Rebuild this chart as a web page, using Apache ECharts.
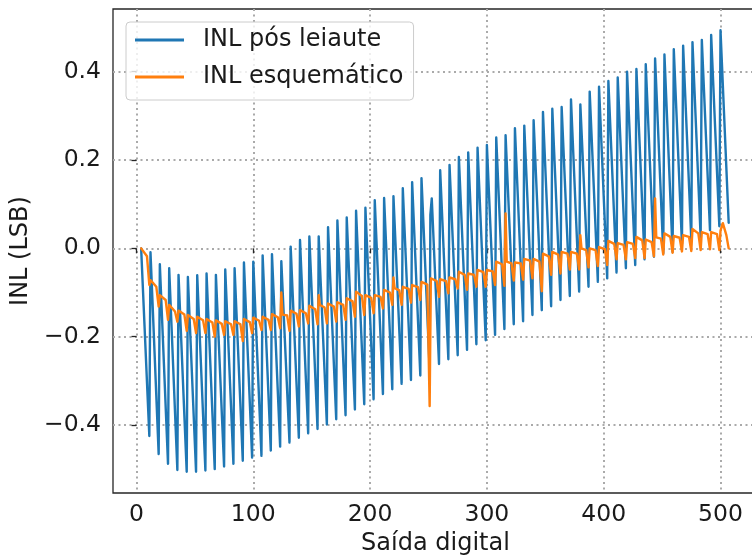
<!DOCTYPE html>
<html>
<head>
<meta charset="utf-8">
<script src="https://cdn.jsdelivr.net/npm/echarts@6/dist/echarts.min.js"></script>
<style>
  html, body { margin: 0; padding: 0; background: #ffffff; }
  #chart { width: 752px; height: 558px; }
</style>
</head>
<body>
<div id="chart"></div>
<script>
// INL pós leiaute: picos e vales do dente de serra (código, LSB)
const blueCodes = [4,
  11, 12, 19, 20, 27, 28, 35, 36, 43, 44, 51, 52, 59, 60, 67, 68, 75, 76, 83, 84,
  91, 92, 99, 100, 107, 108, 115, 116, 123, 124, 131, 132, 139, 140, 147, 148,
  155, 156, 163, 164, 171, 172, 179, 180, 187, 188, 195, 196, 203, 204, 211, 212,
  219, 220, 227, 228, 235, 236, 243, 244, 251, 251.6, 252.8, 259, 260, 267, 268,
  275, 276, 283, 284, 291, 292, 299, 300, 307, 308, 315, 316, 323, 324, 331, 332,
  339, 340, 347, 348, 355, 356, 363, 364, 371, 372, 379, 380, 387, 388, 395, 396,
  403, 404, 411, 412, 419, 420, 427, 428, 435, 436, 443, 444, 451, 452, 459, 460,
  467, 468, 475, 476, 483, 484, 491, 492, 499, 500, 507]
const blueInl = [0.000,
  -0.425, -0.009, -0.466, -0.036, -0.488, -0.045, -0.502, -0.060, -0.506, -0.065, -0.506, -0.061, -0.503, -0.057, -0.500, -0.060, -0.494, -0.048, -0.488, -0.045,
  -0.481, -0.032, -0.474, -0.030, -0.470, -0.016, -0.458, -0.013, -0.449, -0.029, -0.440, 0.004, -0.429, 0.019, -0.419, 0.027,
  -0.409, 0.027, -0.399, 0.048, -0.387, 0.063, -0.378, 0.070, -0.365, 0.085, -0.353, 0.092, -0.342, 0.109, -0.330, 0.114,
  -0.319, 0.118, -0.307, 0.136, -0.298, 0.150, -0.288, 0.159, -0.274, 0.076, 0.113, -0.262, 0.177, -0.251, 0.189,
  -0.242, 0.207, -0.230, 0.217, -0.217, 0.228, -0.208, 0.234, -0.196, 0.251, -0.183, 0.256, -0.172, 0.272, -0.165, 0.278,
  -0.151, 0.290, -0.140, 0.309, -0.131, 0.316, -0.117, 0.320, -0.108, 0.337, -0.098, 0.326, -0.087, 0.355, -0.076, 0.366,
  -0.068, 0.379, -0.055, 0.387, -0.045, 0.400, -0.038, 0.406, -0.025, 0.417, -0.019, 0.430, -0.011, 0.439, -0.008, 0.451,
  0.010, 0.459, 0.019, 0.467, 0.025, 0.472, 0.041, 0.483, 0.050, 0.494, 0.058]

// INL esquemático (código, LSB)
const orangeCodes = [4, 9, 11, 12, 17, 19, 20, 25, 27, 28, 33, 35, 36, 41, 43, 44, 49, 51, 52, 57, 59, 60,
  65, 67, 68, 73, 75, 76, 81, 83, 84, 89, 91, 92, 97, 99, 100, 105, 107, 108, 113, 115, 116,
  121, 123, 124, 125, 129, 131, 132, 137, 139, 140, 145, 147, 148, 153, 155, 156, 157, 161, 163, 164,
  169, 171, 172, 177, 179, 180, 185, 187, 188, 193, 195, 196, 201, 203, 204, 209, 211, 212,
  217, 219, 220, 221, 225, 227, 228, 233, 235, 236, 241, 243, 244, 249, 251, 252,
  257, 259, 260, 265, 267, 268, 273, 275, 276, 281, 283, 284, 289, 291, 292, 297, 299, 300,
  305, 307, 308, 313, 315, 316, 317, 321, 323, 324, 329, 331, 332, 337, 339, 340, 345, 347, 348,
  353, 355, 356, 361, 363, 364, 369, 371, 372, 377, 379, 380, 381, 385, 387, 388, 393, 395, 396,
  401, 403, 404, 409, 411, 412, 417, 419, 420, 425, 427, 428, 433, 435, 436, 441, 443, 444, 445,
  449, 451, 452, 457, 459, 460, 465, 467, 468, 473, 475, 476, 481, 483, 484, 489, 491, 492,
  497, 499, 500, 502, 505, 507]
const orangeInl = [0.000, -0.018, -0.083, -0.072, -0.087, -0.132, -0.106, -0.117, -0.162, -0.128, -0.143, -0.166, -0.141, -0.150, -0.187, -0.151, -0.160, -0.192, -0.155, -0.163, -0.192, -0.160,
  -0.168, -0.200, -0.163, -0.171, -0.196, -0.165, -0.172, -0.196, -0.165, -0.172, -0.210, -0.160, -0.167, -0.192, -0.157, -0.164, -0.185, -0.155, -0.162, -0.185, -0.149,
  -0.156, -0.181, -0.100, -0.150, -0.152, -0.187, -0.141, -0.148, -0.177, -0.140, -0.147, -0.170, -0.130, -0.138, -0.172, -0.106, -0.128, -0.134, -0.170, -0.125,
  -0.132, -0.166, -0.122, -0.128, -0.162, -0.113, -0.120, -0.155, -0.098, -0.108, -0.151, -0.106, -0.112, -0.147, -0.106, -0.110, -0.136, -0.094,
  -0.100, -0.128, -0.066, -0.090, -0.095, -0.128, -0.087, -0.092, -0.123, -0.083, -0.088, -0.117, -0.076, -0.082, -0.357, -0.068,
  -0.074, -0.110, -0.070, -0.074, -0.102, -0.066, -0.070, -0.091, -0.053, -0.060, -0.094, -0.057, -0.060, -0.087, -0.049, -0.054, -0.087, -0.049,
  -0.052, -0.083, -0.030, -0.036, -0.085, 0.079, -0.030, -0.034, -0.073, -0.032, -0.034, -0.071, -0.024, -0.028, -0.068, -0.024, -0.030, -0.097, -0.012,
  -0.018, -0.060, -0.008, -0.014, -0.057, -0.008, -0.012, -0.048, -0.008, -0.012, -0.048, 0.030, 0.000, -0.004, -0.043, 0.000, -0.004, -0.040, 0.003,
  -0.002, -0.038, 0.017, 0.010, -0.025, 0.012, 0.008, -0.025, 0.014, 0.010, -0.022, 0.026, 0.018, -0.022, 0.020, 0.014, -0.018, 0.113, 0.025,
  0.022, -0.014, 0.034, 0.026, -0.010, 0.028, 0.024, -0.007, 0.030, 0.026, -0.006, 0.044, 0.034, -0.004, 0.037, 0.032, -0.002, 0.037,
  0.032, -0.004, 0.040, 0.057, 0.030, 0.000]

const xTicks = [0, 100, 200, 300, 400, 500]
const yTicks = [-0.4, -0.2, 0.0, 0.2, 0.4]

const FONT = 'DejaVu Sans'
const pairs = (xs, ys) => xs.map((x, i) => [x, ys[i]])

const chart = echarts.init(document.getElementById('chart'), null, { renderer: 'canvas' })

const option = {
  animation: false,
  backgroundColor: '#ffffff',
  grid: {
    left: 113, top: 9, width: 645, height: 484,
    show: true, borderColor: '#262626', borderWidth: 1.3,
    outerBoundsMode: 'none'
  },
  legend: {
    orient: 'vertical',
    left: 126, top: 22,
    padding: [4, 10, 9, 9],
    itemGap: 9,
    itemWidth: 49, itemHeight: 2.8,
    icon: 'rect',
    backgroundColor: 'rgba(255,255,255,0.8)',
    borderColor: '#cccccc', borderWidth: 1, borderRadius: 4,
    textStyle: { fontFamily: FONT, fontSize: 24, color: '#1a1a1a', lineHeight: 28, padding: [0, 0, 0, 14] },
    data: ['INL pós leiaute', 'INL esquemático']
  },
  xAxis: {
    type: 'value',
    min: -20.1, max: 532.1,
    name: 'Saída digital', nameLocation: 'middle', nameGap: 38,
    nameTextStyle: { fontFamily: FONT, fontSize: 24, color: '#1a1a1a' },
    axisLine: { show: false },
    axisTick: { show: true, length: 5, customValues: xTicks, lineStyle: { color: '#262626', width: 1.3 } },
    axisLabel: { customValues: xTicks, margin: 10, fontFamily: FONT, fontSize: 23.5, color: '#1a1a1a' },
    splitLine: { show: true, lineStyle: { color: '#aaaaaa', width: 2, type: [2, 3.5] } }
  },
  yAxis: {
    type: 'value',
    min: -0.554, max: 0.542,
    name: 'INL (LSB)', nameLocation: 'middle', nameGap: 74,
    nameTextStyle: { fontFamily: FONT, fontSize: 24, color: '#1a1a1a' },
    axisLine: { show: false },
    axisTick: { show: true, length: 5, customValues: yTicks, lineStyle: { color: '#262626', width: 1.3 } },
    axisLabel: {
      customValues: yTicks, margin: 12, fontFamily: FONT, fontSize: 23.5, color: '#1a1a1a',
      formatter: v => (v < -1e-9 ? '\u2212' : '') + Math.abs(v).toFixed(1)
    },
    splitLine: { show: true, lineStyle: { color: '#aaaaaa', width: 2, type: [2, 3.5] } }
  },
  series: [
    {
      name: 'INL pós leiaute',
      type: 'line',
      data: pairs(blueCodes, blueInl),
      showSymbol: false,
      color: '#1f77b4',
      lineStyle: { width: 2.4, color: '#1f77b4', join: 'round', cap: 'round' }
    },
    {
      name: 'INL esquemático',
      type: 'line',
      data: pairs(orangeCodes, orangeInl),
      showSymbol: false,
      color: '#ff7f0e',
      lineStyle: { width: 2.4, color: '#ff7f0e', join: 'round', cap: 'round' }
    }
  ]
}
chart.setOption(option)
</script>
</body>
</html>
